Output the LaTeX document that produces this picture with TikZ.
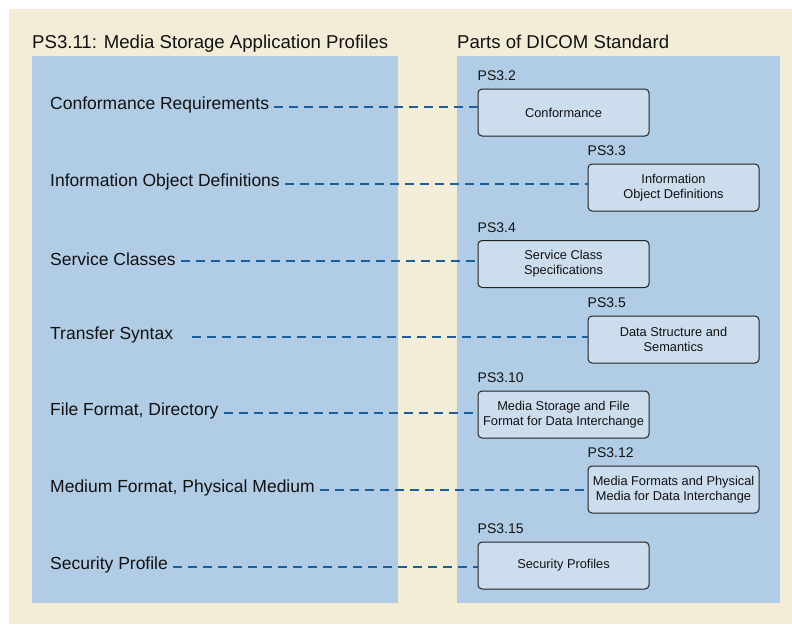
\documentclass[tikz,border=0pt]{standalone}
\usepackage{fontspec}
\setmainfont{Liberation Sans}
\definecolor{beige}{HTML}{F3EDD7}
\definecolor{panel}{HTML}{B1CDE5}
\definecolor{boxfill}{HTML}{CCDDEE}
\definecolor{dashblue}{HTML}{1C5E9C}
\definecolor{boxline}{HTML}{222222}
\definecolor{ink}{HTML}{111111}
\begin{document}
\begin{tikzpicture}[x=1pt,y=-1pt,
  titletext/.style={font=\fontsize{18.6}{21}\selectfont,anchor=base west,inner sep=0pt,text=ink},
  lefttext/.style={font=\fontsize{17.5}{20}\selectfont,anchor=west,inner sep=0pt,text=ink},
  partbox/.style={draw=boxline,fill=boxfill,rounded corners=4pt,line width=1pt,
    minimum width=171pt,minimum height=47pt,inner sep=0pt,align=center,
    font=\fontsize{12.8}{15}\selectfont,text=ink},
  partlabel/.style={font=\fontsize{14}{16}\selectfont,anchor=base west,inner sep=0pt,text=ink},
  link/.style={draw=dashblue,line width=2.5pt,dash pattern=on 9pt off 6pt}]
\useasboundingbox (0,0) rectangle (792,624);
\fill[white] (0,0) rectangle (792,624);
\fill[beige] (9,9) rectangle (792,624);
\fill[panel] (32,56) rectangle (398,603);
\fill[panel] (457,56) rectangle (780,603);
\node[titletext] (t1) at (32,48) {PS3.11: Media Storage Application Profiles};
\node[titletext] (t2) at (457,48) {Parts of DICOM Standard};

% boxes
\node[partbox] (b2) at (563.5,112.5) {Conformance};
\node[partbox] (b3) at (673.5,187.5) {Information\\Object Definitions};
\node[partbox] (b4) at (563.5,264) {Service Class\\Specifications};
\node[partbox] (b5) at (673.5,339.5) {Data Structure and\\Semantics};
\node[partbox] (b10) at (563.5,414.5) {Media Storage and File\\Format for Data Interchange};
\node[partbox] (b12) at (673.5,489.5) {Media Formats and Physical\\Media for Data Interchange};
\node[partbox] (b15) at (563.5,565.5) {Security Profiles};

\foreach \b/\t in {b2/PS3.2,b3/PS3.3,b4/PS3.4,b5/PS3.5,b10/PS3.10,b12/PS3.12,b15/PS3.15}
  \node[partlabel] (l\b) at ([yshift=8pt]\b.north west) {\t};

% left labels
\node[lefttext] (r2) at (50,105) {Conformance Requirements};
\node[lefttext] (r3) at (50,182) {Information Object Definitions};
\node[lefttext] (r4) at (50,259) {Service Classes};
\node[lefttext] (r5) at (50,335) {Transfer Syntax};
\node[lefttext] (r10) at (50,411) {File Format, Directory};
\node[lefttext] (r12) at (50,488) {Medium Format, Physical Medium};
\node[lefttext] (r15) at (50,565) {Security Profile};

\foreach \r in {2,3,4,10,12,15}
  \draw[link] ([xshift=5pt,yshift=-2pt]r\r.east) -- ([yshift=-2pt]r\r.east -| b\r.west);
\draw[link] ([xshift=19pt,yshift=-2pt]r5.east) -- ([yshift=-2pt]r5.east -| b5.west);
\end{tikzpicture}
\end{document}
